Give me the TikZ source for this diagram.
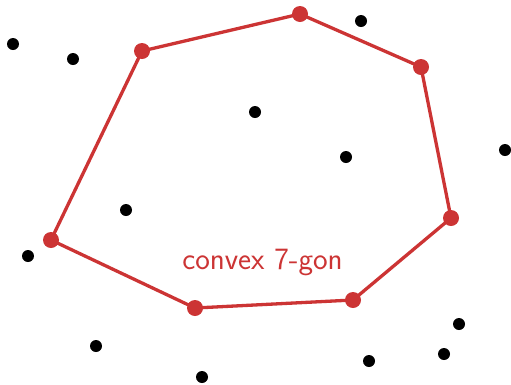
\documentclass[tikz,border=0pt]{standalone}
\usepackage{tikz}
\definecolor{hullred}{RGB}{204,52,52}
\begin{document}
\begin{tikzpicture}[x=1pt,y=-1pt,
  pt/.style={circle,fill=black,inner sep=0pt,minimum size=12pt},
  hv/.style={circle,fill=hullred,inner sep=0pt,minimum size=16pt},
  hull/.style={draw=hullred,line width=3.3pt,line join=round}]
\useasboundingbox (0,0) rectangle (511,384);
\coordinate (v1) at (142,51);
\coordinate (v2) at (300,14);
\coordinate (v3) at (421,67);
\coordinate (v4) at (451,218);
\coordinate (v5) at (353,300);
\coordinate (v6) at (195,308);
\coordinate (v7) at (51,240);
\draw[hull] (v1) -- (v2) -- (v3) -- (v4) -- (v5) -- (v6) -- (v7) -- cycle;
\foreach \i in {1,...,7} \node[hv] (h\i) at (v\i) {};
\node[pt] (p1) at (13,44) {};
\node[pt] (p2) at (73,59) {};
\node[pt] (p3) at (361,21) {};
\node[pt] (p4) at (255,112) {};
\node[pt] (p5) at (346,157) {};
\node[pt] (p6) at (505,150) {};
\node[pt] (p7) at (126,210) {};
\node[pt] (p8) at (28,256) {};
\node[pt] (p9) at (459,324) {};
\node[pt] (p10) at (96,346) {};
\node[pt] (p11) at (369,361) {};
\node[pt] (p12) at (444,354) {};
\node[pt] (p13) at (202,377) {};
\node[anchor=base,text=hullred,font=\sffamily\fontsize{31}{36}\selectfont,inner sep=0pt] (lbl) at (262.5,269) {convex 7-gon};
\end{tikzpicture}
\end{document}
